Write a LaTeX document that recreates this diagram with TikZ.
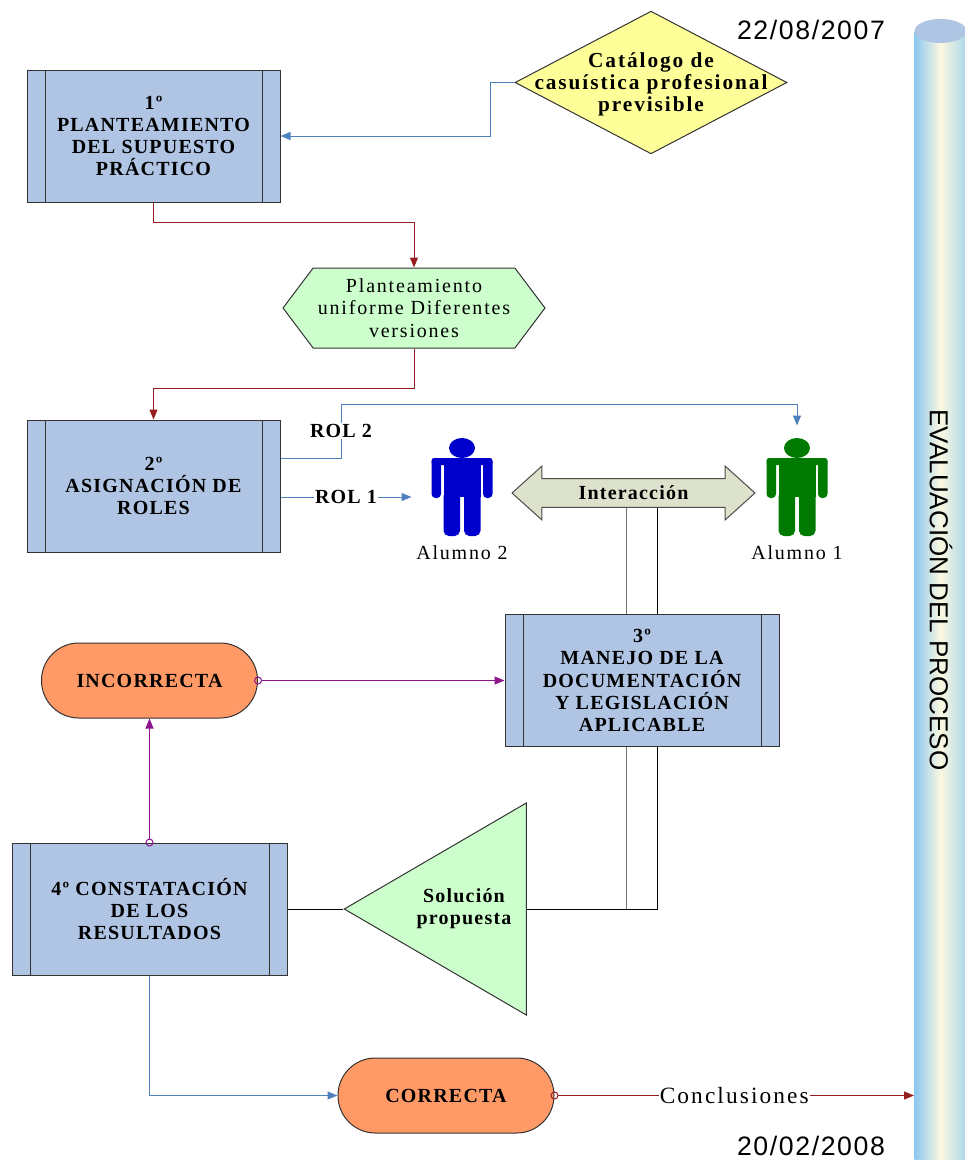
\documentclass[tikz,border=0pt]{standalone}
\usepackage{fontspec}
\setmainfont{Liberation Serif}
\newfontfamily\capfont[LetterSpace=6]{Liberation Serif}
\newfontfamily\txtfont[LetterSpace=9]{Liberation Serif}
\newfontfamily\sansfont{Liberation Sans}
\newfontfamily\datefont[LetterSpace=6]{Liberation Sans}
\usepackage{tikz}
\usetikzlibrary{positioning,calc,backgrounds,arrows.meta,shapes.geometric,shapes.symbols,shapes.arrows}
\definecolor{procblue}{RGB}{176,196,228}
\definecolor{catyellow}{RGB}{255,255,153}
\definecolor{palegreen}{RGB}{204,255,204}
\definecolor{resorange}{RGB}{255,153,102}
\definecolor{intergray}{RGB}{221,226,204}
\definecolor{linkblue}{RGB}{79,129,189}
\definecolor{linkred}{RGB}{150,30,30}
\definecolor{linkpurple}{RGB}{140,20,140}
\definecolor{alublue}{RGB}{0,0,204}
\definecolor{alugreen}{RGB}{0,122,0}
\definecolor{cylblue}{RGB}{140,200,240}
\definecolor{cylcream}{RGB}{252,248,224}
\definecolor{cylright}{RGB}{170,215,235}
\definecolor{cyltop}{RGB}{176,196,228}
\newcommand{\alumno}[4]{\node[minimum width=75pt, minimum height=106.5pt, inner sep=0pt] (#1) at (#2) {};
	\fill[#3] ($(#1)+(0,-49)$) ellipse (9.75pt and 7.5pt);
	\fill[#3, rounded corners=3pt] ($(#1)+(-30.5,-39)$) rectangle ($(#1)+(-21,1)$);
	\fill[#3, rounded corners=3pt] ($(#1)+(21,-39)$) rectangle ($(#1)+(30.5,1)$);
	\fill[#3, rounded corners=2pt] ($(#1)+(-30.5,-39)$) rectangle ($(#1)+(30.5,-32)$);
	\fill[#3] ($(#1)+(-18.5,-39)$) rectangle ($(#1)+(18.5,0)$);
	\fill[#3, rounded corners=4pt] ($(#1)+(-18.5,-6)$) rectangle ($(#1)+(-2,39)$);
	\fill[#3, rounded corners=4pt] ($(#1)+(2,-6)$) rectangle ($(#1)+(18.5,39)$);
	\node[txt] (#1t) at ($(#1)+(0,56)$) {#4};}

\begin{document}
\begin{tikzpicture}[x=0.75pt, y=-0.75pt, line width=0.75pt,
	txt/.style={font=\txtfont\fontsize{15pt}{16.7pt}\selectfont, align=center, inner sep=1pt},
	boldtxt/.style={font=\capfont\bfseries\fontsize{15pt}{16.7pt}\selectfont, align=center, inner sep=1pt},
	proc/.style={boldtxt, draw=black!80, fill=procblue, minimum height=99pt, inner sep=0pt,
		path picture={\draw[black!80] ([xshift=13.5pt]path picture bounding box.north west) -- ([xshift=13.5pt]path picture bounding box.south west)
			([xshift=-13.5pt]path picture bounding box.north east) -- ([xshift=-13.5pt]path picture bounding box.south east);}},
	result/.style={boldtxt, draw=black!80, fill=resorange, rounded corners=28pt, minimum width=162pt, minimum height=56.25pt},
	tip/.style={-{Triangle[length=7.5pt,width=6pt]}},
	ctip/.style={{Circle[open,length=6pt]}-{Triangle[length=7.5pt,width=6pt]}, shorten <=-3pt},
	flowblue/.style={draw=linkblue, tip},
	flowred/.style={draw=linkred, tip},
	flowpurple/.style={draw=linkpurple, ctip}]
\useasboundingbox (0,0) rectangle (964,1160);
\node[anchor=north west, minimum width=39pt, minimum height=858pt, inner sep=0pt, left color=cylblue, right color=cylright, middle color=cylcream] (eval) at (914,31) {};
\fill[cyltop] (eval.north) ellipse (19.5pt and 9pt);
\node[rotate=-90, font=\sansfont\fontsize{19.5pt}{22pt}\selectfont] (evt) at (941,590) {EVALUACIÓN DEL PROCESO};
\node[font=\datefont\fontsize{20pt}{24pt}\selectfont] (d1) at (811,30) {22/08/2007};
\node[font=\datefont\fontsize{20pt}{24pt}\selectfont] (d2) at (811,1146) {20/02/2008};

\node[proc, minimum width=189.75pt] (b1) at (153.5,136) {1º\\PLANTEAMIENTO\\DEL SUPUESTO\\PRÁCTICO};
\node[diamond, draw=black!80, fill=catyellow, minimum width=204pt, minimum height=107pt, inner sep=0pt,
	label={[font=\txtfont\bfseries\fontsize{16pt}{16.7pt}\selectfont, align=center, yshift=-1.5pt]center:{Catálogo de\\casuística profesional\\previsible}}] (cat) at (651,82.5) {};
\node[txt, signal, signal to=west and east, signal pointer angle=106, draw=black!80, fill=palegreen,
	minimum width=196.5pt, minimum height=60pt, inner sep=0pt] (hex) at (414,308) {Planteamiento\\uniforme Diferentes\\versiones};
\node[proc, minimum width=189.75pt] (b2) at (153.5,486) {2º\\ASIGNACIÓN DE\\ROLES};
\alumno{al2}{462,497}{alublue}{Alumno 2}
\alumno{al1}{797,497}{alugreen}{Alumno 1}
\node[boldtxt, double arrow, double arrow tip angle=84, double arrow head extend=9pt, draw=black!70, fill=intergray,
	minimum height=182.25pt, minimum width=40.5pt, inner ysep=4.5pt] (inter) at (633.5,493) {Interacción};
\node[proc, minimum width=205.5pt] (b3) at (642,680.5) {3º\\MANEJO DE LA\\DOCUMENTACIÓN\\Y LEGISLACIÓN\\APLICABLE};
\node[result] (inc) at (149.5,680.5) {INCORRECTA};
\node[proc, minimum width=206.25pt] (b4) at (149.5,909) {4º CONSTATACIÓN\\DE LOS\\RESULTADOS};
\node[isosceles triangle, isosceles triangle stretches, shape border rotate=180, draw=black!80, fill=palegreen,
	minimum width=159pt, minimum height=136.5pt, inner sep=0pt, anchor=apex] (sol) at (343,909) {};
\node[boldtxt] (solt) at ($(sol.apex)+(121,0)$) {Solución\\propuesta};
\node[result] (cor) at (446,1095.5) {CORRECTA};

\coordinate (rolb) at (341,404);
\coordinate (ia) at ($(inter.center)+(-7.5,15)$);
\coordinate (ib) at ($(inter.center)+(23.5,15)$);
\begin{scope}[on background layer]
\draw[black!55] (ia) -- (ia |- sol.lower side);
\draw (ib) |- (sol.lower side);
\end{scope}
\draw[flowblue] (cat.west) -- ++(-24,0) |- (b1.east);
\draw[flowred] (b1.south) -- ++(0,20) -| (hex.north);
\draw[flowred] (hex.south) -- ++(0,40) -| (b2.north);
\draw[flowblue] ([yshift=21pt]b2.east) -| node[pos=0.75, fill=white, boldtxt] {ROL 2} (rolb) -| (al1.north);
\draw[flowblue] ([yshift=-8.25pt]b2.east) -- node[fill=white, boldtxt] {ROL 1} (al2.west);
\draw (sol.apex) -- (b4.east);
\draw[flowpurple] (inc.east) -- (b3.west);
\draw[flowpurple] (b4.north) -- (inc.south);
\draw[flowblue] (b4.south) |- (cor.west);
\draw[flowred, ctip] (cor.east) -- node[txt, fill=white, font=\txtfont\fontsize{17.5pt}{20pt}\selectfont] {Conclusiones} (eval.west |- cor.east);
\end{tikzpicture}
\end{document}
